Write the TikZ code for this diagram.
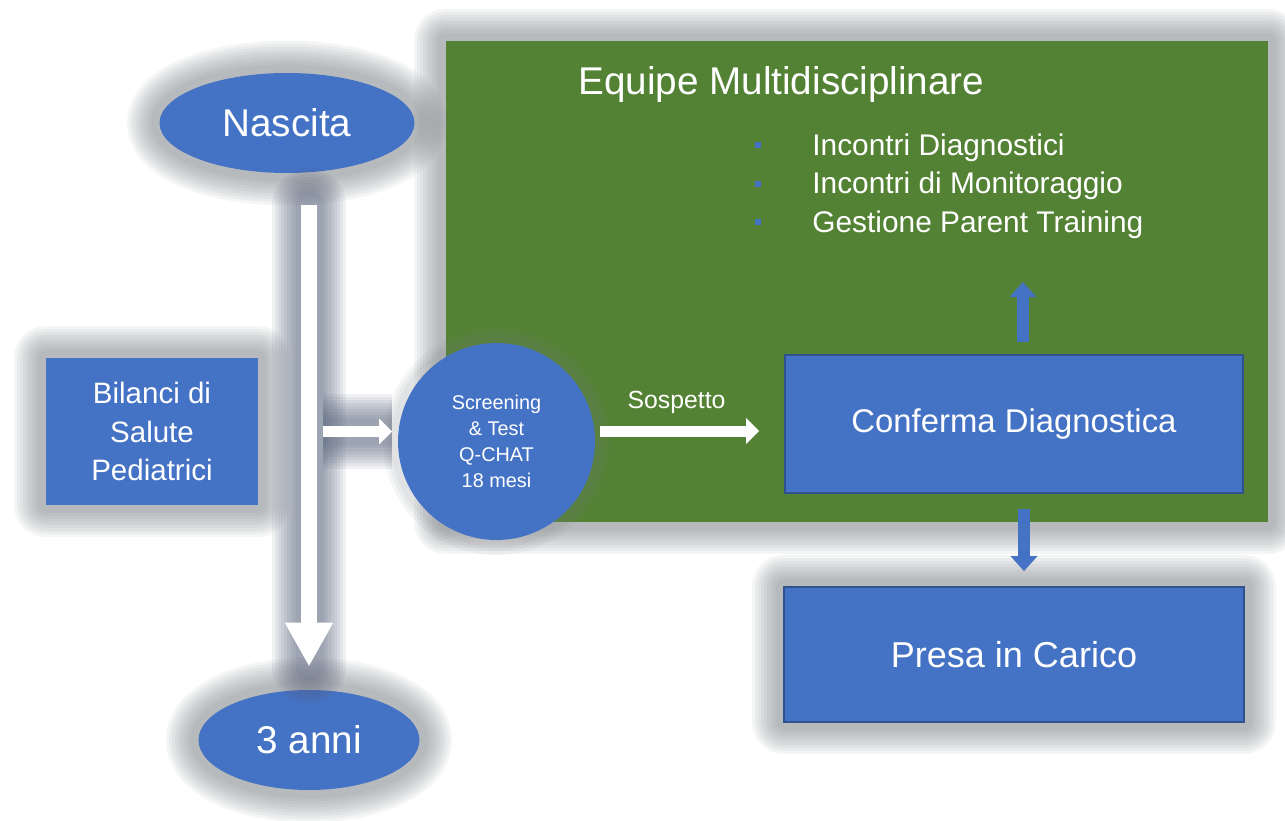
\documentclass[tikz,border=0pt]{standalone}
\usepackage{fontspec}
\setmainfont{Liberation Sans}
\usetikzlibrary{positioning,arrows.meta,shapes.geometric}

\definecolor{boxblue}{RGB}{68,114,196}
\definecolor{edgeblue}{RGB}{47,82,143}
\definecolor{panelgreen}{RGB}{84,130,53}
\definecolor{glowgray}{RGB}{120,124,130}
\definecolor{darkglow}{RGB}{85,95,120}

\newcommand{\sqbullet}{\textcolor{boxblue}{\rule[0.45ex]{0.12cm}{0.12cm}}}

\begin{document}
\begin{tikzpicture}[x=0.02cm,y=-0.02cm,
  glowring/.style={preaction={draw=glowgray,line width=#1,opacity=.075,line join=round}},
  glow/.style={glowring/.list={1.3cm,1.18cm,1.06cm,0.94cm,0.82cm,0.7cm,0.58cm,0.46cm,0.34cm}},
  haloring/.style={preaction={draw=darkglow,line width=#1,opacity=.085,arrows=-}},
  roundring/.style={preaction={draw=darkglow,line width=#1,opacity=.085,arrows=-,line cap=round}},
  halo/.style={haloring/.list={1.5cm,1.38cm,1.26cm,1.14cm,1.02cm,0.9cm,0.78cm,0.66cm,0.54cm}},
  roundhalo/.style={roundring/.list={1.5cm,1.38cm,1.26cm,1.14cm,1.02cm,0.9cm,0.78cm,0.66cm,0.54cm}},
  panel/.style={rectangle,fill=panelgreen,inner sep=0pt,glow},
  stage/.style={ellipse,fill=boxblue,text=white,inner sep=0pt,
     font=\fontsize{22}{26}\selectfont,glow},
  bluebox/.style={rectangle,fill=boxblue,text=white,inner sep=0pt},
  bigarrow/.style={white,line width=0.32cm,-{Triangle[width=0.9cm,length=0.88cm]}},
  whitearrow/.style={white,line width=0.22cm,-{Triangle[width=0.5cm,length=0.26cm]}},
  bluearrow/.style={boxblue,line width=0.24cm,-{Triangle[width=0.52cm,length=0.3cm]}}]
\useasboundingbox (0,0) rectangle (1285,821);
\fill[white] (0,0) rectangle (1285,821);

% equipe panel
\node[panel,minimum width=16.44cm,minimum height=9.62cm] (equipe) at (857,281.5) {};
\node[anchor=west,inner sep=0pt,text=white,font=\fontsize{22}{26}\selectfont] (title) at (578,85) {Equipe Multidisciplinare};
\node[anchor=west,inner sep=0pt,text=white,font=\fontsize{17}{21.9}\selectfont] (tasks) at (755,186) {%
  \begin{tabular}{@{}l@{\hspace{1.02cm}}l@{}}
  \sqbullet & Incontri Diagnostici\\
  \sqbullet & Incontri di Monitoraggio\\
  \sqbullet & Gestione Parent Training\\
  \end{tabular}};

\node[bluebox,draw=edgeblue,line width=1pt,minimum width=9.16cm,minimum height=2.76cm,
  font=\fontsize{18.7}{22}\selectfont] (conferma) at (1014,424) {Conferma Diagnostica};
\node[bluebox,draw=edgeblue,line width=1pt,minimum width=9.2cm,minimum height=2.7cm,
  font=\fontsize{20.5}{24}\selectfont,glow] (presa) at (1014,654.5) {Presa in Carico};

\node[bluebox,minimum width=4.24cm,minimum height=2.94cm,align=center,
  font=\fontsize{16.8}{21.9}\selectfont,glow] (bilanci) at (152,431.5) {Bilanci di\\Salute\\Pediatrici};

\node[stage,minimum width=5.1cm,minimum height=2cm] (nascita) at (287,123) {Nascita};
\node[stage,minimum width=4.42cm,minimum height=2cm] (anni) at (309,740) {3 anni};

\draw[bigarrow,roundhalo,shorten <=0.64cm,shorten >=0.46cm] (anni.north |- nascita.south) -- (anni.north);

\node[circle,fill=boxblue,text=white,minimum size=3.94cm,inner sep=0pt,align=center,
  font=\fontsize{11.3}{14.7}\selectfont,
  glowring/.list={0.6cm,0.45cm,0.3cm}] (screening) at (496.5,441.5)
  {Screening\\\& Test\\Q-CHAT\\18 mesi};

\draw[whitearrow,halo,shorten <=1.3cm,shorten >=0.11cm] (bilanci.east) -- (bilanci.east -| screening.west);
\draw[whitearrow,shorten <=0.1cm,shorten >=0.5cm] ([yshift=0.21cm]screening.east) -- ([yshift=0.21cm]screening.east -| conferma.west)
  node[pos=0.43,yshift=0.58cm,text=white,font=\fontsize{14.1}{17}\selectfont] (sospetto) {Sospetto};
\draw[bluearrow,shorten <=0.24cm,shorten >=0.76cm] ([xshift=0.18cm]conferma.north) -- ([xshift=0.18cm]conferma.north |- tasks.south);
\draw[bluearrow,shorten <=0.3cm,shorten >=0.3cm] ([xshift=0.2cm]conferma.south) -- ([xshift=0.2cm]conferma.south |- presa.north);
\end{tikzpicture}
\end{document}
